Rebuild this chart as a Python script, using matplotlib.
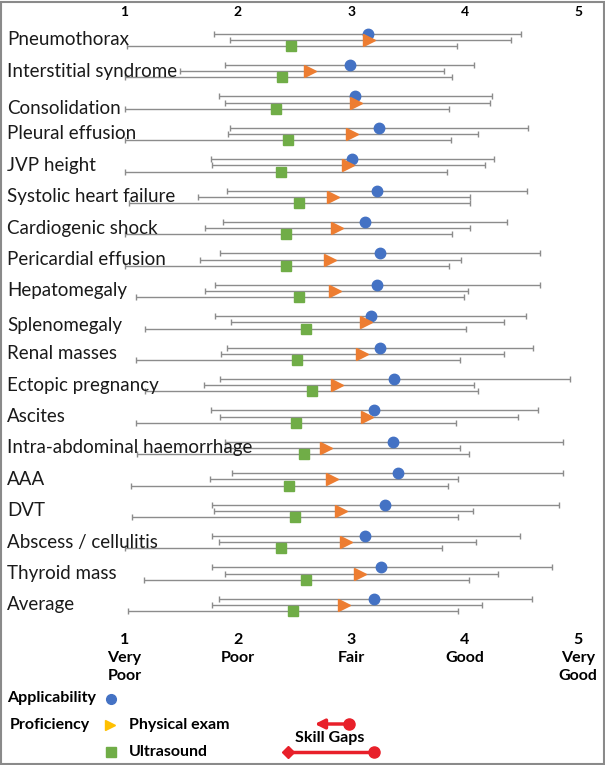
import matplotlib.pyplot as plt
from matplotlib.patches import Rectangle
from matplotlib.lines import Line2D

categories = ["Pneumothorax", "Interstitial syndrome", "Consolidation", "Pleural effusion",
              "JVP height", "Systolic heart failure", "Cardiogenic shock", "Pericardial effusion",
              "Hepatomegaly", "Splenomegaly", "Renal masses", "Ectopic pregnancy", "Ascites",
              "Intra-abdominal haemorrhage", "AAA", "DVT", "Abscess / cellulitis",
              "Thyroid mass", "Average"]

# applicability (blue circles)
app_mean = [3.15, 2.99, 3.03, 3.24, 3.01, 3.23, 3.12, 3.25, 3.23, 3.17,
            3.25, 3.38, 3.20, 3.37, 3.41, 3.30, 3.12, 3.26, 3.20]
app_lo = [1.79, 1.89, 1.83, 1.93, 1.76, 1.90, 1.87, 1.84, 1.80, 1.80,
          1.90, 1.84, 1.76, 1.89, 1.95, 1.77, 1.77, 1.77, 1.83]
app_hi = [4.50, 4.08, 4.24, 4.56, 4.26, 4.55, 4.37, 4.66, 4.66, 4.54,
          4.60, 4.93, 4.65, 4.87, 4.87, 4.83, 4.49, 4.77, 4.59]

# proficiency, physical exam (orange triangles)
pe_mean = [3.16, 2.64, 3.04, 3.01, 2.97, 2.84, 2.87, 2.81, 2.86, 3.13,
           3.09, 2.87, 3.14, 2.78, 2.83, 2.91, 2.95, 3.08, 2.94]
pe_lo = [1.93, 1.49, 1.89, 1.91, 1.77, 1.65, 1.71, 1.67, 1.71, 1.94,
         1.85, 1.70, 1.84, 1.89, 1.75, 1.79, 1.83, 1.89, 1.77]
pe_hi = [4.41, 3.82, 4.22, 4.12, 4.18, 4.05, 4.05, 3.97, 4.03, 4.35,
         4.35, 4.08, 4.47, 3.96, 3.94, 4.07, 4.10, 4.29, 4.15]

# proficiency, ultrasound (green squares)
us_mean = [2.47, 2.39, 2.34, 2.44, 2.38, 2.54, 2.42, 2.42, 2.54, 2.60,
           2.52, 2.65, 2.51, 2.58, 2.45, 2.50, 2.38, 2.60, 2.49]
us_lo = [1.02, 1.00, 1.00, 1.00, 1.00, 1.04, 1.00, 1.00, 1.10, 1.18,
         1.10, 1.18, 1.10, 1.11, 1.06, 1.07, 1.00, 1.17, 1.03]
us_hi = [3.93, 3.89, 3.86, 3.88, 3.84, 4.05, 3.89, 3.86, 3.99, 4.01,
         3.96, 4.12, 3.92, 4.04, 3.85, 3.94, 3.80, 4.04, 3.94]

scale_ticks = [1, 2, 3, 4, 5]
scale_labels = ["1\nVery\nPoor", "2\nPoor", "3\nFair", "4\nGood", "5\nVery\nGood"]

BLUE = "#4472C4"
ORANGE = "#ED7D31"
GREEN = "#70AD47"
GREY = "#8c8c8c"
RED = "#E8202A"

plt.rcParams['font.family'] = ['Lato', 'DejaVu Sans']

W, H = 605, 765
fig = plt.figure(figsize=(W / 100, H / 100), dpi=100)
ax = fig.add_axes([0, 0, 1, 1])
# x in scale units (1 at px 124.5, 113.4 px per unit), y in pixels from top
px0, ppu = 124.5, 113.4
ax.set_xlim(1 - px0 / ppu, 1 + (W - px0) / ppu)
ax.set_ylim(H, 0)
ax.axis('off')

row0, step = 33.5, 31.4
for i, name in enumerate(categories):
    y = row0 + i * step
    ax.errorbar(app_mean[i], y, xerr=[[app_mean[i] - app_lo[i]], [app_hi[i] - app_mean[i]]],
                fmt='o', color=BLUE, ms=7.5, ecolor=GREY, elinewidth=1, capsize=2.2, zorder=3)
    ax.errorbar(pe_mean[i], y + 6.2, xerr=[[pe_mean[i] - pe_lo[i]], [pe_hi[i] - pe_mean[i]]],
                fmt='>', color=ORANGE, ms=8, ecolor=GREY, elinewidth=1, capsize=2.2, zorder=3)
    ax.errorbar(us_mean[i], y + 12.4, xerr=[[us_mean[i] - us_lo[i]], [us_hi[i] - us_mean[i]]],
                fmt='s', color=GREEN, ms=7.5, ecolor=GREY, elinewidth=1, capsize=2.2, zorder=3)
    ly = y + 6.2
    if name == "Consolidation":
        ly = y + 12.4
    elif name == "Splenomegaly":
        ly = y + 9
    ax.text(1 - (px0 - 7) / ppu, ly, name, fontsize=13.5, va='center', ha='left',
            color='#1a1a1a', zorder=4)

for t, lab in zip(scale_ticks, scale_labels):
    ax.text(t, 12, str(t), fontsize=10, fontweight='bold', ha='center', va='center')
    ax.text(t, 633, lab, fontsize=11.5, fontweight='bold', ha='center', va='top',
            linespacing=1.35)

# legend
lx = 1 - px0 / ppu
def px(p):
    return lx + p / ppu

ax.text(px(7), 698, "Applicability", fontsize=11.5, fontweight='bold', va='center')
ax.plot(px(111), 699, 'o', color=BLUE, ms=7)
ax.text(px(10), 725, "Proficiency", fontsize=11.5, fontweight='bold', va='center')
ax.plot(px(110), 725, '>', color="#FFC000", ms=7)
ax.text(px(129), 725, "Physical exam", fontsize=11.5, fontweight='bold', va='center')
ax.plot(px(111), 752, 's', color=GREEN, ms=7)
ax.text(px(129), 752, "Ultrasound", fontsize=11.5, fontweight='bold', va='center')

# skill gap arrows
ax.annotate("", xy=(px(312), 724), xytext=(px(349), 724),
            arrowprops=dict(arrowstyle='-|>', color=RED, lw=2.5, mutation_scale=14))
ax.plot(px(349), 724, 'o', color=RED, ms=8)
ax.plot([px(288), px(374)], [752, 752], color=RED, lw=2.5)
ax.plot(px(288), 752, 'D', color=RED, ms=6)
ax.plot(px(374), 752, 'o', color=RED, ms=8)
ax.text(px(330), 738, "Skill Gaps", fontsize=11.5, fontweight='bold', ha='center', va='center')

fig.patches.append(Rectangle((0.001, 0.001), 0.997, 0.997, transform=fig.transFigure,
                             fill=False, edgecolor='#8a8a8a', lw=1.5))

fig.savefig("out.png", dpi=100)
